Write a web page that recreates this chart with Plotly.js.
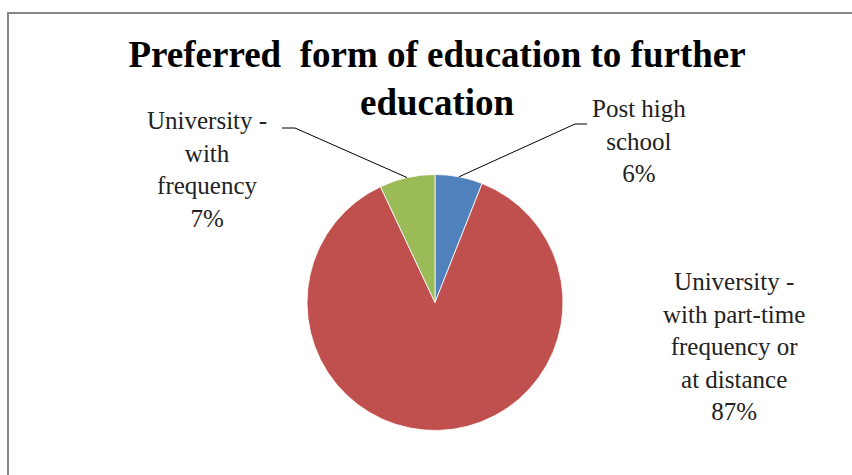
<!DOCTYPE html>
<html>
<head>
<meta charset="utf-8">
<script src="https://cdn.plot.ly/plotly-3.0.1.min.js"></script>
<style>html,body{margin:0;padding:0;background:#fff;}#chart{width:852px;height:475px;}</style>
</head>
<body>
<div id="chart"></div>
<script>
const categories = ["Post high school", "University - with part-time frequency or at distance", "University - with frequency"];
const labelLines = ["Post high<br>school", "University -<br>with part-time<br>frequency or<br>at distance", "University -<br>with<br>frequency"];
const shares = [6, 87, 7];
const sliceColors = ["#4F81BD", "#C0504D", "#9BBB59"];
const titleText = "Preferred  form of education to further<br>education";

const W = 852, H = 475;
const cx = 435, cy = 302.5, R = 128;
const px = x => x / W, py = y => 1 - y / H;
const SERIF = '"Times New Roman", "Liberation Serif", Tinos, "DejaVu Serif", serif';

// label placement (layout) per slice
const labelPos = [
  {x: 639, y: 141, elbow: [575, 124], end: [587, 124]},
  {x: 734, y: 346, elbow: null, end: null},
  {x: 207, y: 169, elbow: [295, 128], end: [282, 128]}
];

const total = shares.reduce((a, b) => a + b, 0);
let cum = 0;
const annotations = [];
const shapes = [];
shares.forEach((v, i) => {
  const mid = (cum + v / 2) / total * 2 * Math.PI;
  cum += v;
  const tx = cx + R * Math.sin(mid), ty = cy - R * Math.cos(mid);
  const lp = labelPos[i];
  annotations.push({
    xref: 'paper', yref: 'paper', x: px(lp.x), y: py(lp.y),
    xanchor: 'center', yanchor: 'middle', showarrow: false,
    text: labelLines[i] + '<br>' + Math.round(v / total * 100) + '%',
    font: {family: SERIF, size: 25, color: '#222'},
    align: 'center'
  });
  if (lp.elbow) {
    shapes.push({
      type: 'path', xref: 'paper', yref: 'paper',
      path: `M ${px(tx)},${py(ty)} L ${px(lp.elbow[0])},${py(lp.elbow[1])} L ${px(lp.end[0])},${py(lp.end[1])}`,
      line: {color: '#000', width: 1}
    });
  }
});

shapes.push({
  type: 'rect', xref: 'paper', yref: 'paper',
  x0: px(8), x1: px(W + 10), y0: py(H + 10), y1: py(13),
  line: {color: '#878787', width: 2}, fillcolor: 'rgba(0,0,0,0)', layer: 'below'
});

const data = [{
  type: 'pie',
  labels: categories,
  values: shares,
  sort: false,
  direction: 'clockwise',
  rotation: 0,
  textinfo: 'none',
  hoverinfo: 'label+percent',
  marker: {colors: sliceColors, line: {color: '#ffffff', width: 0.8}},
  domain: {x: [px(cx - R), px(cx + R)], y: [py(cy + R), py(cy - R)]},
  showlegend: false
}];

const layout = {
  width: W, height: H,
  margin: {l: 0, r: 0, t: 0, b: 0},
  paper_bgcolor: '#fff', plot_bgcolor: '#fff',
  showlegend: false,
  font: {family: SERIF},
  title: {
    text: '<b>' + titleText + '</b>',
    font: {family: SERIF, size: 37, color: '#000'},
    x: 0.513, xanchor: 'center', y: 1 - 67 / H, yanchor: 'middle', yref: 'paper'
  },
  annotations: annotations,
  shapes: shapes
};

Plotly.newPlot('chart', data, layout, {displayModeBar: false, staticPlot: true});
</script>
</body>
</html>
